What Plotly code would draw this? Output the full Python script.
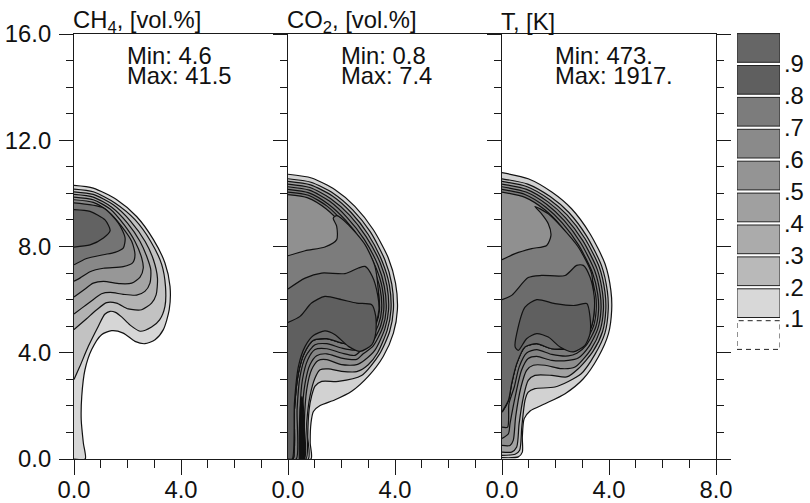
import plotly.graph_objects as go

# ---- contour curves, (radius, height) in the axis units ----
CH4_L1 = [(0,10.3),(0.72,10.2),(1.6,9.76),(2.34,9.13),(2.97,8.26),(3.4,7.38),(3.59,6.5),(3.56,5.62),(3.34,4.87),(3.03,4.49),(2.65,4.34),(2.28,4.43),(1.84,4.74),(1.41,4.83),(1.03,4.68),(0.66,4.12),(0.41,3.36),(0.29,2.36),(0.27,1.48),(0.35,0.6),(0.42,0),(0,0)]
CH4_L2 = [(0,10.16),(0.72,10.06),(1.53,9.64),(2.28,9.01),(2.87,8.19),(3.28,7.32),(3.42,6.5),(3.4,5.75),(3.2,5.24),(2.9,4.97),(2.47,4.81),(2.1,5.04),(1.78,5.35),(1.55,5.52),(1.35,5.56),(1.15,5.45),(0.91,5.0),(0.54,4.25),(0.22,3.49),(0,2.99)]
CH4_L3 = [(0,10.06),(0.72,9.96),(1.47,9.57),(2.12,8.95),(2.66,8.19),(2.97,7.5),(3.12,6.81),(3.07,6.18),(2.9,5.87),(2.53,5.62),(2.03,5.65),(1.59,5.87),(1.22,5.89),(0.85,5.62),(0.47,5.28),(0,4.87)]
CH4_L4 = [(0,9.96),(0.72,9.86),(1.41,9.48),(2.0,8.88),(2.47,8.19),(2.74,7.57),(2.87,7.13),(2.84,6.62),(2.65,6.31),(2.34,6.17),(1.84,6.2),(1.35,6.27),(1.03,6.22),(0.6,5.91),(0.29,5.68),(0,5.46)]
CH4_L5 = [(0,9.86),(0.72,9.76),(1.35,9.41),(1.87,8.82),(2.28,8.19),(2.53,7.57),(2.59,7.19),(2.47,6.85),(2.16,6.62),(1.72,6.6),(1.1,6.69),(0.72,6.62),(0.35,6.35),(0,6.1)]
CH4_L6 = [(0,9.76),(0.72,9.66),(1.28,9.32),(1.78,8.76),(2.16,8.19),(2.28,7.69),(2.19,7.38),(1.84,7.24),(1.1,7.18),(0.6,7.05),(0.22,6.81),(0,6.69)]
CH4_L7 = [(0,9.64),(1.1,9.45),(1.66,8.88),(1.91,8.32),(1.84,7.94),(1.53,7.78),(1.1,7.69),(0.47,7.55),(0,7.31)]
CH4_L8 = [(0,9.39),(0.6,9.32),(1.16,9.0),(1.35,8.6),(1.1,8.32),(0.6,8.06),(0,7.98)]
CH4_GREYS = ["#d6d6d6","#c2c2c2","#b2b2b2","#a4a4a4","#979797","#888888","#747474","#626262"]

CO2_L1 = [(0,10.72),(0.88,10.58),(1.76,10.14),(2.5,9.51),(3.19,8.63),(3.75,7.57),(4.02,6.62),(4.09,5.62),(3.94,4.74),(3.56,3.86),(3.0,3.11),(2.38,2.55),(1.76,2.23),(1.2,2.01),(0.95,1.79),(0.86,1.36),(0.83,0.6),(0.86,0),(0,0)]
CO2_L2 = [(0,10.55),(0.86,10.42),(1.7,10.0),(2.42,9.38),(3.08,8.55),(3.62,7.5),(3.88,6.58),(3.94,5.62),(3.8,4.8),(3.42,3.95),(2.75,3.14),(1.88,2.92),(1.26,2.92),(1.01,2.74),(0.88,2.36),(0.79,1.86),(0.74,0.85),(0.76,0),(0,0)]
CO2_L3 = [(0,10.45),(0.84,10.32),(1.66,9.9),(2.36,9.28),(3.0,8.45),(3.53,7.42),(3.79,6.55),(3.85,5.62),(3.71,4.85),(3.35,4.0),(3.0,3.55),(2.57,3.29),(2.0,3.3),(1.51,3.39),(1.2,3.36),(1.01,3.05),(0.82,2.36),(0.7,1.36),(0.67,0),(0,0)]
CO2_L4 = [(0,10.35),(0.82,10.22),(1.6,9.8),(2.3,9.18),(2.92,8.37),(3.45,7.38),(3.7,6.52),(3.76,5.62),(3.62,4.9),(3.25,4.1),(2.88,3.74),(2.57,3.55),(2.0,3.55),(1.45,3.74),(1.13,3.71),(0.88,3.36),(0.7,2.61),(0.61,1.36),(0.61,0),(0,0)]
CO2_L5 = [(0,10.25),(0.8,10.12),(1.56,9.7),(2.22,9.08),(2.85,8.27),(3.36,7.3),(3.6,6.5),(3.67,5.62),(3.54,4.95),(3.18,4.25),(2.8,3.95),(2.57,3.75),(2.0,3.8),(1.45,3.96),(1.07,3.89),(0.82,3.55),(0.64,2.86),(0.54,1.86),(0.54,0),(0,0)]
CO2_L6 = [(0,10.15),(0.78,10.02),(1.5,9.6),(2.16,8.98),(2.77,8.18),(3.28,7.22),(3.52,6.46),(3.58,5.62),(3.46,5.0),(3.12,4.35),(2.75,4.1),(2.5,3.9),(2.0,3.99),(1.45,4.15),(1.01,4.12),(0.74,3.74),(0.54,2.99),(0.45,1.86),(0.45,0),(0,0)]
CO2_L7 = [(0,10.05),(0.76,9.93),(1.46,9.52),(2.1,8.88),(2.7,8.08),(3.2,7.14),(3.44,6.42),(3.5,5.62),(3.38,5.05),(3.05,4.45),(2.68,4.2),(2.5,4.1),(2.0,4.18),(1.45,4.34),(1.01,4.3),(0.66,3.86),(0.45,3.11),(0.34,1.86),(0.31,0),(0,0)]
CO2_L8 = [(0,9.95),(0.74,9.83),(1.42,9.42),(2.04,8.8),(2.62,8.0),(3.12,7.06),(3.36,6.38),(3.42,5.62),(3.3,5.1),(2.98,4.55),(2.6,4.27),(2.4,4.3),(2.0,4.37),(1.45,4.53),(0.95,4.47),(0.61,3.99),(0.39,3.24),(0.24,1.86),(0.19,0),(0,0)]
CO2_Q = [(0,7.65),(0.64,7.84),(1.38,7.98),(1.82,8.26),(1.82,8.76),(1.69,9.07),(1.82,9.16),(2.26,8.82),(2.88,8.07),(3.25,7.25),(3.38,6.3),(3.4,5.62),(3.28,5.1),(2.98,4.55),(2.6,4.27),(2.0,4.37),(1.45,4.53),(0.95,4.47),(0.61,3.99),(0.39,3.24),(0.24,1.86),(0.19,0),(0,0)]
CO2_M = [(0,6.4),(0.64,6.81),(1.26,7.0),(2.13,6.98),(2.63,7.19),(2.88,7.25),(3.15,6.88),(3.35,6.19),(3.4,5.62),(3.28,5.1),(2.98,4.55),(2.6,4.27),(2.0,4.37),(1.45,4.53),(0.95,4.47),(0.61,3.99),(0.39,3.24),(0.24,1.86),(0.19,0),(0,0)]
CO2_D = [(0,5.14),(0.45,5.37),(0.88,5.87),(1.38,6.12),(2.0,6.0),(2.57,5.87),(3.13,5.81),(3.28,5.37),(3.28,4.74),(3.13,4.3),(2.69,4.05),(2.26,4.24),(1.76,4.68),(1.38,4.82),(0.95,4.65),(0.64,4.24),(0.39,3.49),(0.24,2.11),(0.16,0),(0,0)]
CO2_RIDGE = [(0.42,0),(0.44,1.6),(0.52,2.35),(0.6,1.6),(0.62,0)]
CO2_GREYS = ["#d2d2d2","#bcbcbc","#a0a0a0","#8e8e8e","#848484","#7e7e7e","#7a7a7a","#909090","#7c7c7c","#6c6c6c","#5f5f5f","#111111"]

T_L1 = [(0,10.78),(0.98,10.55),(1.86,10.05),(2.6,9.42),(3.29,8.48),(3.85,7.35),(4.07,6.35),(4.1,5.6),(3.98,4.72),(3.6,3.84),(3.04,3.02),(2.36,2.46),(1.61,2.08),(1.05,1.81),(0.83,1.52),(0.76,0.83),(0.76,0.26),(0.61,0.08),(0,0.05)]
T_L2 = [(0,10.55),(0.96,10.35),(1.8,9.88),(2.5,9.28),(3.17,8.38),(3.72,7.28),(3.94,6.3),(3.97,5.6),(3.85,4.75),(3.48,3.95),(2.95,3.2),(1.98,2.71),(1.23,2.65),(0.98,2.52),(0.86,2.21),(0.74,1.2),(0.66,0.33),(0.49,0.18),(0,0.14)]
T_L3 = [(0,10.45),(0.94,10.25),(1.76,9.78),(2.44,9.18),(3.1,8.3),(3.64,7.22),(3.85,6.28),(3.88,5.6),(3.76,4.8),(3.4,4.05),(2.85,3.4),(2.42,3.09),(1.86,3.15),(1.23,3.15),(0.98,2.96),(0.8,2.33),(0.64,1.33),(0.55,0.45),(0.36,0.26),(0,0.26)]
T_L4 = [(0,10.35),(0.92,10.15),(1.72,9.68),(2.38,9.08),(3.02,8.22),(3.56,7.14),(3.76,6.25),(3.79,5.6),(3.67,4.85),(3.32,4.12),(2.73,3.46),(2.23,3.4),(1.61,3.53),(1.17,3.53),(0.92,3.34),(0.71,2.71),(0.51,1.58),(0.42,0.7),(0.3,0.51),(0,0.51)]
T_L5 = [(0,10.25),(0.9,10.05),(1.68,9.58),(2.32,8.98),(2.94,8.14),(3.47,7.08),(3.67,6.22),(3.7,5.6),(3.58,4.9),(3.24,4.22),(2.85,3.8),(2.48,3.71),(1.86,3.71),(1.3,3.86),(0.98,3.78),(0.73,3.34),(0.49,2.33),(0.3,1.33),(0.24,0.95),(0,0.77)]
T_L6 = [(0,10.15),(0.88,9.95),(1.64,9.48),(2.26,8.88),(2.86,8.06),(3.38,7.02),(3.58,6.2),(3.61,5.6),(3.5,4.95),(3.16,4.3),(2.8,3.98),(2.48,3.88),(1.86,3.94),(1.3,4.12),(0.92,3.99),(0.64,3.46),(0.46,2.71),(0.26,2.08),(0.21,1.2),(0,1.2)]
T_L7 = [(0,10.05),(0.86,9.85),(1.6,9.38),(2.2,8.78),(2.78,7.98),(3.3,6.96),(3.5,6.18),(3.52,5.6),(3.42,5.0),(3.08,4.38),(2.7,4.15),(1.86,4.15),(1.3,4.34),(0.86,4.22),(0.55,3.59),(0.36,2.84),(0.24,2.21),(0.05,1.83),(0,1.77)]
T_Q = [(0,7.5),(0.49,7.73),(1.11,7.92),(1.67,8.04),(1.83,8.42),(1.73,8.86),(1.48,9.23),(1.23,9.51),(1.73,9.23),(2.23,8.73),(2.85,7.98),(3.35,6.98),(3.42,6.0),(3.45,5.6),(3.35,5.0),(3.0,4.38),(2.6,4.18),(1.86,4.15),(1.3,4.34),(0.86,4.22),(0.55,3.59),(0.36,2.84),(0.24,2.21),(0,1.77)]
T_M = [(0,6.0),(0.36,6.16),(0.98,6.83),(1.48,6.91),(2.36,6.91),(2.79,7.29),(3.04,7.29),(3.29,6.85),(3.45,6.1),(3.45,5.6),(3.35,5.0),(3.0,4.38),(2.6,4.18),(1.86,4.15),(1.3,4.34),(0.86,4.22),(0.55,3.59),(0.36,2.84),(0.24,2.21),(0,1.77)]
T_D = [(0.49,4.22),(0.55,4.72),(0.86,5.72),(1.3,6.0),(1.98,5.85),(2.73,5.78),(3.17,5.85),(3.29,5.35),(3.29,4.72),(3.1,4.28),(2.67,4.03),(2.17,4.22),(1.73,4.59),(1.3,4.72),(0.92,4.53),(0.61,4.09),(0.49,4.22)]
T_GREYS = ["#d2d2d2","#bcbcbc","#a2a2a2","#8e8e8e","#848484","#7c7c7c","#909090","#7c7c7c","#6c6c6c","#5f5f5f"]

LEGEND_LEVELS = [0.0,0.1,0.2,0.3,0.4,0.5,0.6,0.7,0.8,0.9]
LEGEND_GREYS = [None,"#d8d8d8","#b9b9b9","#ababab","#a0a0a0","#949494","#8a8a8a","#7c7c7c","#5f5f5f","#666666"]
LEGEND_LABELS = [".1",".2",".3",".4",".5",".6",".7",".8",".9"]
LEGEND_TICKS = [0.1,0.2,0.3,0.4,0.5,0.6,0.7,0.8,0.9]
LEGEND_GAP = 0.01

PANEL_TITLES = ["CH<sub>4</sub>, [vol.%]","CO<sub>2</sub>, [vol.%]","T, [K]"]
PANEL_MIN = ["Min: 4.6","Min: 0.8","Min: 473."]
PANEL_MAX = ["Max: 41.5","Max: 7.4","Max: 1917."]
Y_TICKS = [0,4,8,12,16]
X_TICKS = [[0,4],[0,4],[0,4,8]]

FONT = "Liberation Sans"
FS = 23.8
INK = "#1a1a1a"
W, H = 810, 503
L, R, TOP = 74, 0, 30
BOT = H - 459
AREA = W - L - R
AH = H - TOP - BOT
PW = 214
PH = 425

fig = go.Figure()

def draw(curves, greys, axis):
    for pts, grey in zip(curves, greys):
        fig.add_trace(go.Scatter(
            x=[p[0] for p in pts], y=[p[1] for p in pts], mode="lines", fill="toself",
            fillcolor=grey, line=dict(color="#111111", width=1.2, shape="spline", smoothing=0.7),
            hoverinfo="skip", showlegend=False, xaxis="x"+axis, yaxis="y"+axis))

draw([CH4_L1,CH4_L2,CH4_L3,CH4_L4,CH4_L5,CH4_L6,CH4_L7,CH4_L8], CH4_GREYS, "")
draw([CO2_L1,CO2_L2,CO2_L3,CO2_L4,CO2_L5,CO2_L6,CO2_L7,CO2_L8,CO2_Q,CO2_M,CO2_D,CO2_RIDGE], CO2_GREYS, "2")
draw([T_L1,T_L2,T_L3,T_L4,T_L5,T_L6,T_L7,T_Q,T_M,T_D], T_GREYS, "3")

# legend boxes
for lev, grey in zip(LEGEND_LEVELS, LEGEND_GREYS):
    lo, hi = lev + LEGEND_GAP/2, lev + 0.1 - LEGEND_GAP/2
    xs, ys = [0,1,1,0,0], [lo,lo,hi,hi,lo]
    if grey is None:
        fig.add_trace(go.Scatter(x=xs, y=ys, mode="lines", line=dict(color="#222222", width=1, dash="5px,4px"),
                                 hoverinfo="skip", showlegend=False, xaxis="x4", yaxis="y4", cliponaxis=False))
    else:
        fig.add_trace(go.Scatter(x=xs, y=ys, mode="lines", fill="toself", fillcolor=grey,
                                 line=dict(color="#222222", width=1), hoverinfo="skip", showlegend=False,
                                 xaxis="x4", yaxis="y4", cliponaxis=False))

tickfont = dict(family=FONT, size=FS, color="#111111")
layout = dict(width=W, height=H, margin=dict(l=L, r=R, t=TOP, b=BOT, pad=0, autoexpand=False),
              plot_bgcolor="white", paper_bgcolor="white", showlegend=False)

for i in range(3):
    s = "" if i == 0 else str(i+1)
    layout["xaxis"+s] = dict(
        domain=[i*PW/AREA, (i+1)*PW/AREA], range=[0,8], anchor="y"+s, tickmode="array",
        tickvals=X_TICKS[i], ticktext=["%.1f" % v for v in X_TICKS[i]], ticks="outside", ticklen=15,
        tickwidth=1.2, tickcolor=INK, showline=True, linecolor=INK, linewidth=1.2, mirror=True,
        showgrid=False, zeroline=False, tickfont=tickfont, ticklabelstandoff=-6,
        minor=dict(dtick=1, tick0=0, ticks="outside", ticklen=8, tickwidth=1.2, tickcolor=INK, showgrid=False))
    layout["yaxis"+s] = dict(
        domain=[0, PH/AH], range=[0,16], anchor="x"+s, tickmode="array",
        tickvals=Y_TICKS, ticktext=["%.1f" % v for v in Y_TICKS], showticklabels=(i == 0), ticks="outside", ticklen=14,
        tickwidth=1.2, tickcolor=INK, showline=True, linecolor=INK, linewidth=1.2, mirror=("ticks" if i == 2 else False),
        showgrid=False, zeroline=False, tickfont=tickfont, ticklabelstandoff=3,
        minor=dict(dtick=1, tick0=0, ticks="outside", ticklen=7, tickwidth=1.2, tickcolor=INK, showgrid=False))

layout["xaxis4"] = dict(domain=[(737-74)/AREA, (780-74)/AREA], range=[0,1], anchor="y4", visible=False)
layout["yaxis4"] = dict(domain=[(459-351)/AH, (459-32)/AH], range=[0,1], anchor="x4", side="right",
                        tickmode="array", tickvals=LEGEND_TICKS, ticktext=LEGEND_LABELS, ticks="",
                        showline=False, showgrid=False, zeroline=False, tickfont=tickfont, ticklabelstandoff=3)

anns = []
MIN_X = [0.2405, 0.236, 0.236]
for i in range(3):
    s = "" if i == 0 else str(i+1)
    af = dict(family=FONT, size=FS, color="#111111")
    xr, yr = "x"+s+" domain", "y"+s+" domain"
    anns.append(dict(text=PANEL_TITLES[i], xref=xr, yref=yr, x=-0.012, y=1.029, xanchor="left", yanchor="middle", showarrow=False, font=af))
    anns.append(dict(text=PANEL_MIN[i], xref=xr, yref=yr, x=MIN_X[i], y=0.949, xanchor="left", yanchor="middle", showarrow=False, font=af))
    anns.append(dict(text=PANEL_MAX[i], xref=xr, yref=yr, x=MIN_X[i], y=0.9035, xanchor="left", yanchor="middle", showarrow=False, font=af))
layout["annotations"] = anns

fig.update_layout(**layout)
fig.write_html("out.html", config={"displayModeBar": False},
               post_script="document.body.style.margin='0';document.body.style.overflow='hidden';")
